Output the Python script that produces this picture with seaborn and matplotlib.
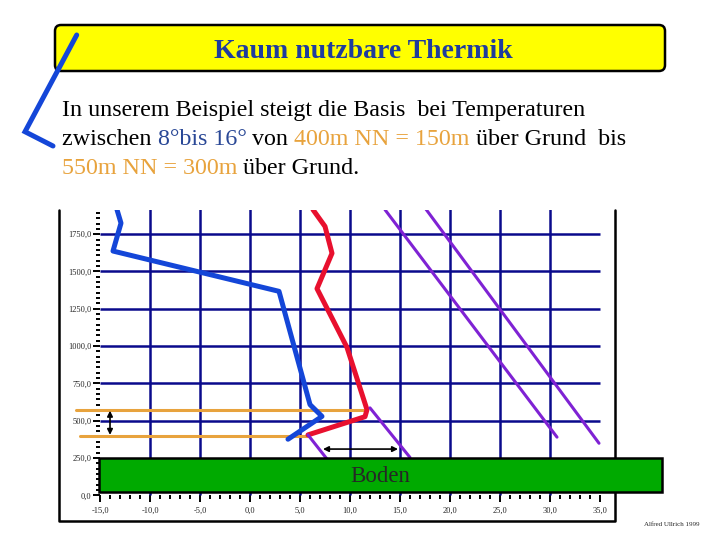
import numpy as np
import matplotlib
matplotlib.use("Agg")
import matplotlib.pyplot as plt
import seaborn as sns
import pandas as pd
from matplotlib.patches import Rectangle, FancyBboxPatch
from matplotlib.ticker import FixedLocator, FuncFormatter

# Temperaturkurve (blau) und Aufstiegskurve (rot)
blue_temp = [-13.3, -12.9, -13.7, 2.9, 6.0, 7.2, 3.8]
blue_height = [1914, 1824, 1637, 1367, 608, 529, 376]
red_temp = [6.3, 7.5, 8.2, 6.7, 9.7, 11.7, 11.5, 5.8]
red_height = [1914, 1802, 1622, 1385, 991, 574, 527, 405]

# Trockenadiabaten (lila)
adiabat_temp = [[13.5, 30.7], [17.5, 34.9], [12.0, 16.0], [5.8, 7.7]]
adiabat_height = [[1914, 390], [1926, 349], [586, 254], [405, 243]]

# Basishoehen (orange)
base_heights = [572, 395]
base_start = [-17.4, -17.0]
base_end = [11.7, 5.8]

x_ticks = list(range(-15, 40, 5))
y_ticks = list(range(0, 2000, 250))
grid_x = list(range(-10, 35, 5))
grid_y = list(range(500, 2000, 250))

title = "Kaum nutzbare Thermik"
body_lines = [
    [("In unserem Beispiel steigt die Basis  bei Temperaturen", "black")],
    [("zwischen ", "black"), ("8°bis 16°", "#2a4896"), (" von ", "black"),
     ("400m NN = 150m", "#e8a33d"), (" über Grund  bis", "black")],
    [("550m NN = 300m", "#e8a33d"), (" über Grund.", "black")],
]
credit = "Alfred Ullrich 1999"

# Zierstrich oben links (Pixel)
stroke_x = [76.7, 25, 53]
stroke_y = [35, 131.7, 146]

sns.set_style("white")
plt.rcParams['font.family'] = ['Liberation Serif', 'DejaVu Serif']

fig = plt.figure(figsize=(7.2, 5.4), dpi=100)

# Hintergrund in Pixelkoordinaten
bg = fig.add_axes([0, 0, 1, 1])
bg.set_xlim(0, 720)
bg.set_ylim(540, 0)
bg.axis("off")

box = FancyBboxPatch((55, 25), 610, 46, boxstyle="round,pad=0,rounding_size=6",
                     facecolor="#ffff00", edgecolor="black", linewidth=1.8)
bg.add_patch(box)
bg.text(363, 58, title, ha="center", va="baseline", fontsize=20,
        fontweight="bold", color="#1f3c9e")
bg.plot(stroke_x, stroke_y, color="#1446d8", linewidth=3.6, solid_joinstyle="miter")

baselines = [116, 145, 174]
for line, yb in zip(body_lines, baselines):
    prev = None
    for txt, col in line:
        if prev is None:
            prev = bg.text(62, yb, txt, ha="left", va="baseline", fontsize=17.3, color=col)
        else:
            prev = bg.annotate(txt, xy=(1, 0), xycoords=prev, ha="left", va="bottom",
                               fontsize=17.3, color=col)

# Rahmen
bg.plot([59, 59, 615, 615], [210, 521, 521, 210], color="black", linewidth=1.8)
bg.text(672, 525, credit, ha="center", va="center", fontsize=5)

# Diagramm
ax = fig.add_axes([59 / 720, 1 - 521 / 540, 556 / 720, 311 / 540])
ax.patch.set_alpha(0)
ax.set_xlim(-19.1, 36.5)
ax.set_ylim(-172, 1912)

grid_col = "#0a0a8c"
ax.hlines(grid_y, -15, 35, color=grid_col, linewidth=1.8, zorder=1)
ax.vlines(grid_x, 0, 2000, color=grid_col, linewidth=1.8, zorder=1)

for h, x0, x1 in zip(base_heights, base_start, base_end):
    ax.plot([x0, x1], [h, h], color="#e8a33d", linewidth=2.2, zorder=2)

df_blue = pd.DataFrame({"t": blue_temp, "h": blue_height})
df_red = pd.DataFrame({"t": red_temp, "h": red_height})
sns.lineplot(data=df_blue, x="t", y="h", sort=False, estimator=None, ax=ax,
             color="#1446d8", linewidth=3.6, zorder=3)
sns.lineplot(data=df_red, x="t", y="h", sort=False, estimator=None, ax=ax,
             color="#e8102e", linewidth=3.6, zorder=4)
for tt, hh in zip(adiabat_temp, adiabat_height):
    sns.lineplot(x=tt, y=hh, sort=False, estimator=None, ax=ax,
                 color="#7f22d4", linewidth=2.2, zorder=5)

# Boden
ground = Rectangle((-15.1, 24), 56.3, 226, facecolor="#00aa00", edgecolor="black",
                   linewidth=1.8, zorder=6, clip_on=False)
ax.add_patch(ground)
ax.text(13, 129, "Boden", ha="center", va="center", fontsize=16.5, zorder=7)

# Pfeile
arrow = dict(arrowstyle="<|-|>", color="black", linewidth=1.2, mutation_scale=8,
             shrinkA=0, shrinkB=0)
ax.annotate("", xy=(-14, base_heights[1] + 10), xytext=(-14, base_heights[0] - 5),
            arrowprops=arrow, zorder=7)
ax.annotate("", xy=(7.3, 310), xytext=(14.8, 310), arrowprops=arrow, zorder=7)

# Achsen
for s in ax.spines.values():
    s.set_linewidth(0)
ax.spines["left"].set_position(("data", -15))
ax.spines["bottom"].set_position(("data", 0))
ax.set_xticks(x_ticks)
ax.set_yticks(y_ticks)
ax.xaxis.set_minor_locator(FixedLocator(np.arange(x_ticks[0], x_ticks[-1] + 0.5, 1)))
ax.yaxis.set_minor_locator(FixedLocator(np.arange(0, 1912, 250 / 7)))
fmt = FuncFormatter(lambda v, p: f"{v:.1f}".replace(".", ","))
ax.xaxis.set_major_formatter(fmt)
ax.yaxis.set_major_formatter(fmt)
ax.tick_params(axis="x", which="both", bottom=True, top=False, color="black")
ax.tick_params(axis="y", which="both", left=True, right=False, color="black")
ax.tick_params(axis="x", which="major", direction="out", length=5, width=1.4,
               labelsize=6, pad=3)
ax.tick_params(axis="x", which="minor", direction="out", length=3, width=1.4)
ax.tick_params(axis="y", which="major", direction="out", length=5, width=1.4,
               labelsize=6, pad=1)
ax.tick_params(axis="y", which="minor", direction="out", length=3, width=1.4)
ax.set_xlabel("")
ax.set_ylabel("")

fig.savefig("out.png", dpi=100)
